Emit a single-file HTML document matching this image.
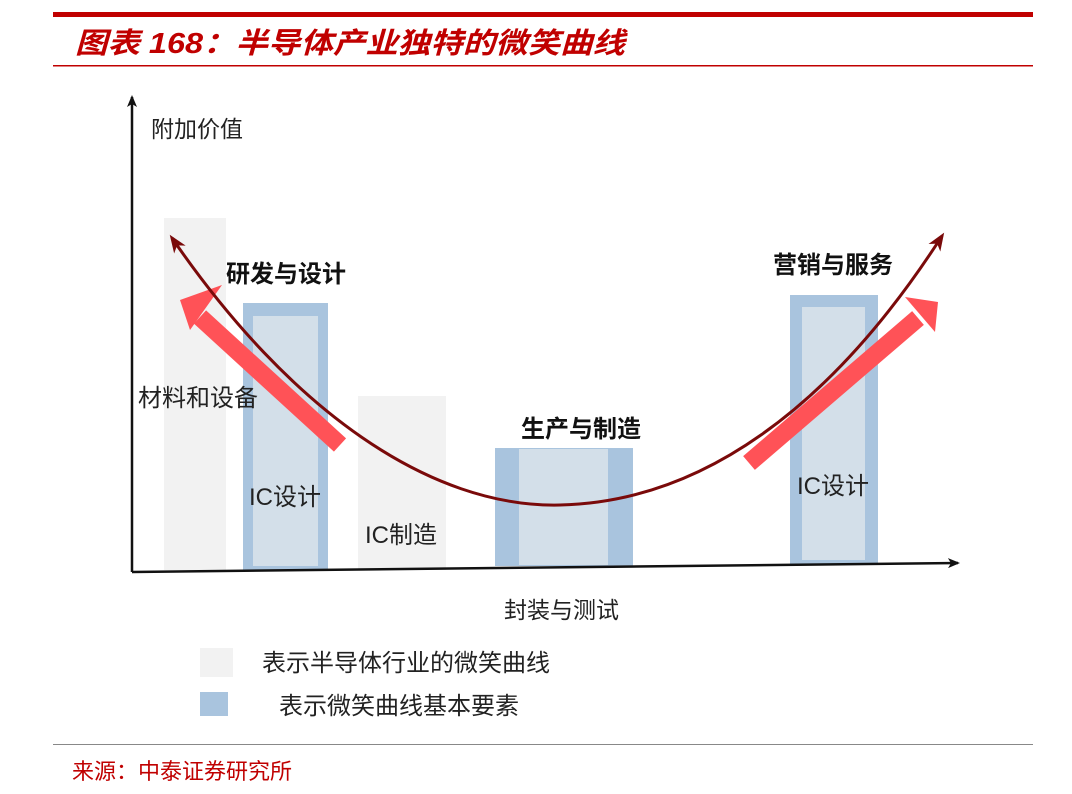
<!DOCTYPE html>
<html><head><meta charset="utf-8"><style>
html,body{margin:0;padding:0;background:#fff;}
svg{display:block;}
text{font-family:"Liberation Sans","Noto Sans CJK SC",sans-serif;}
</style></head><body>
<svg width="1072" height="794" viewBox="0 0 1072 794" xmlns="http://www.w3.org/2000/svg">
<defs>
<marker id="ah" markerWidth="18" markerHeight="14" refX="14" refY="7" orient="auto-start-reverse" markerUnits="userSpaceOnUse">
<path d="M0,0 L18,7 L0,14 L5,7 Z" fill="#7a0a0a"/></marker>
<marker id="ax" markerWidth="12" markerHeight="10" refX="10" refY="5" orient="auto" markerUnits="userSpaceOnUse">
<path d="M0,0 L12,5 L0,10 L3,5 Z" fill="#111"/></marker>
</defs>
<rect x="53" y="12" width="980" height="5" fill="#c00000"/>
<text x="75" y="53" font-size="29" font-weight="bold" font-style="italic" fill="#c00000" textLength="550" lengthAdjust="spacingAndGlyphs">图表 168：半导体产业独特的微笑曲线</text>
<rect x="53" y="65" width="980" height="1.5" fill="#c00000"/>

<rect x="164" y="218" width="62" height="352" fill="#f2f2f2"/>
<rect x="243" y="303" width="85" height="267" fill="#a9c4de"/>
<rect x="253" y="316" width="65" height="250" fill="#d3dfe9"/>
<rect x="358" y="396" width="88" height="174" fill="#f2f2f2"/>
<rect x="495" y="448" width="138" height="118" fill="#a9c4de"/>
<rect x="519" y="449" width="89" height="116" fill="#d3dfe9"/>
<rect x="790" y="295" width="88" height="269" fill="#a9c4de"/>
<rect x="802" y="307" width="63" height="253" fill="#d3dfe9"/>

<line x1="132" y1="572" x2="132" y2="97" stroke="#111" stroke-width="2.5" marker-end="url(#ax)"/>
<line x1="132" y1="572" x2="958" y2="563" stroke="#111" stroke-width="2.5" marker-end="url(#ax)"/>

<line x1="340" y1="445" x2="200" y2="317" stroke="#ff5257" stroke-width="18"/>
<polygon points="180,300 222,285 190,330" fill="#ff5257"/>
<line x1="749" y1="463" x2="918" y2="318" stroke="#ff5257" stroke-width="18"/>
<polygon points="938,302 905,297 935,332" fill="#ff5257"/>

<path d="M172,238 C 290,410 430,508 560,505 C 700,502 830,410 942,236" fill="none" stroke="#7a0a0a" stroke-width="3" marker-start="url(#ah)" marker-end="url(#ah)"/>

<text x="151" y="137" font-size="23" fill="#222">附加价值</text>
<text x="226" y="282" font-size="24" font-weight="bold" fill="#111">研发与设计</text>
<text x="773" y="273" font-size="24" font-weight="bold" fill="#111">营销与服务</text>
<text x="521" y="437" font-size="24" font-weight="bold" fill="#111">生产与制造</text>
<text x="138" y="406" font-size="24" fill="#222">材料和设备</text>
<text x="249" y="505" font-size="24" fill="#222">IC设计</text>
<text x="365" y="543" font-size="24" fill="#222">IC制造</text>
<text x="797" y="494" font-size="24" fill="#222">IC设计</text>
<text x="504" y="618" font-size="23" fill="#222">封装与测试</text>

<rect x="200" y="648" width="33" height="29" fill="#f2f2f2"/>
<text x="262" y="671" font-size="24" fill="#222">表示半导体行业的微笑曲线</text>
<rect x="200" y="692" width="28" height="24" fill="#a9c4de"/>
<text x="279" y="714" font-size="24" fill="#222">表示微笑曲线基本要素</text>

<rect x="53" y="744" width="980" height="1" fill="#888"/>
<text x="72" y="779" font-size="22" fill="#c00000" font-family="'Liberation Serif','Noto Serif CJK SC',serif">来源：中泰证券研究所</text>
</svg>
</body></html>
